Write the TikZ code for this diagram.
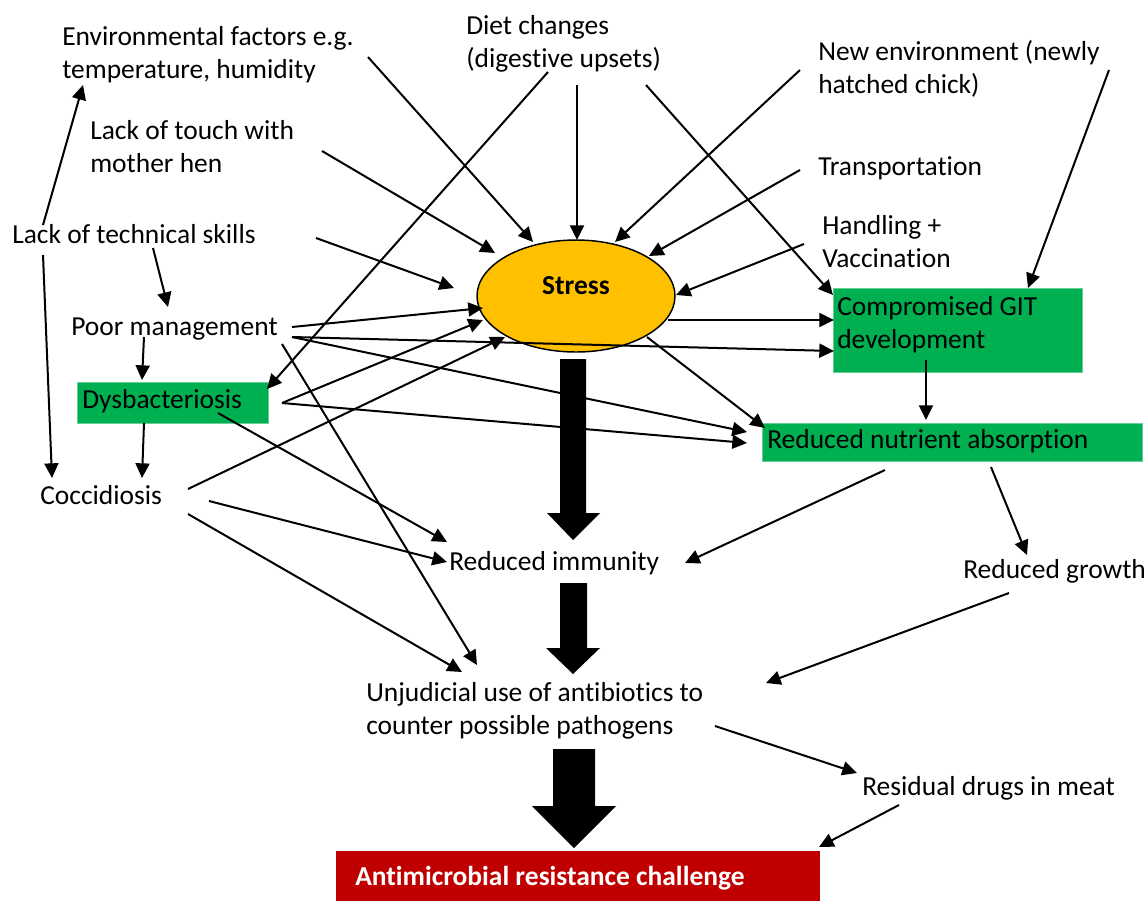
\documentclass[tikz,border=0pt]{standalone}
\usepackage{fontspec}
\setmainfont{Carlito}[Ligatures=NoCommon]
\usetikzlibrary{arrows.meta,shapes.geometric}
\definecolor{stressyellow}{HTML}{FFC000}
\definecolor{boxgreen}{HTML}{00B050}
\definecolor{amrred}{HTML}{C00000}
\begin{document}
\begin{tikzpicture}[x=0.75pt,y=-0.75pt,
  txt/.style={anchor=base west, inner sep=0pt, align=left, font=\fontsize{20.6}{24.75}\selectfont},
  conn/.style={line width=1.5pt, -{Triangle[length=11pt,width=10.5pt]}},
  gbox/.style={fill=boxgreen, draw=boxgreen!60!white, line width=0.6pt, inner sep=0pt, anchor=north west},
  bigarrow/.style={fill=black}]
\useasboundingbox (0,0) rectangle (1146,901);

% boxes
\node[gbox, minimum width=143.25pt, minimum height=30.75pt] (dysb) at (77,382) {};
\node[gbox, minimum width=186.75pt, minimum height=63pt] (git) at (833,288) {};
\node[gbox, minimum width=285pt, minimum height=28.5pt] (nutr) at (762,423) {};
\node[fill=amrred, inner sep=0pt, anchor=north west, minimum width=363pt, minimum height=37.5pt] (amr) at (336,851) {};
\node[ellipse, fill=stressyellow, draw=black, line width=1.1pt, inner sep=0pt, minimum width=148.5pt, minimum height=84pt] (stress) at (576,296) {};

% texts (multi-line nodes: base = last line)
\node[txt] (env) at (62,78) {Environmental factors e.g.\\temperature, humidity};
\node[txt] (diet) at (466,67) {Diet changes\\(digestive upsets)};
\node[txt] (newenv) at (818,93) {New environment (newly\\hatched chick)};
\node[txt] (touch) at (90,172) {Lack of touch with\\mother hen};
\node[txt] (transp) at (818,175) {Transportation};
\node[txt] (handl) at (822,267) {Handling +\\Vaccination};
\node[txt] (skills) at (12,243) {Lack of technical skills};
\node[txt] (poor) at (71,335) {Poor management};
\node[txt] (dysbt) at (82,408) {Dysbacteriosis};
\node[txt] (cocc) at (40,504) {Coccidiosis};
\node[txt] (gitt) at (837,348) {Compromised GIT\\development};
\node[txt] (nutrt) at (767,448) {Reduced nutrient absorption};
\node[txt] (immun) at (449,570) {Reduced immunity};
\node[txt] (growth) at (963,578) {Reduced growth};
\node[txt] (unjud) at (366,734) {Unjudicial use of antibiotics to\\counter possible pathogens};
\node[txt] (resid) at (862,795) {Residual drugs in meat};
\node[txt, text=white, font=\fontsize{20.6}{24.75}\selectfont\bfseries] (amrt) at (355,885) {Antimicrobial resistance challenge};
\node[txt, anchor=base, font=\fontsize{20.6}{24.75}\selectfont\bfseries] (stresst) at (576,294) {Stress};

% big arrows
\fill[bigarrow] (560,359) -- (586,359) -- (586,513) -- (600,513) -- (573,540) -- (547,513) -- (560,513) -- cycle;
\fill[bigarrow] (560,583) -- (587,583) -- (587,648) -- (600,648) -- (573,674) -- (546,648) -- (560,648) -- cycle;
\fill[bigarrow] (553,749) -- (595,749) -- (595,806) -- (616,806) -- (574,848) -- (532,806) -- (553,806) -- cycle;

% coordinates
\coordinate (aS) at (368,57);   \coordinate (aE) at (533,242);
\coordinate (bS) at (322,151);  \coordinate (bE) at (495,253);
\coordinate (cS) at (316,238);  \coordinate (cE) at (454,288);
\coordinate (dS) at (577,85);   \coordinate (dE) at (577,240);
\coordinate (eS) at (548,72);   \coordinate (eE) at (267,389);
\coordinate (fS) at (646,85);   \coordinate (fE) at (833,295);
\coordinate (gS) at (800,70);   \coordinate (gE) at (615,242);
\coordinate (hS) at (1109,70);  \coordinate (hE) at (1028,288);
\coordinate (iS) at (800,170);  \coordinate (iE) at (649,256);
\coordinate (jS) at (804,244);  \coordinate (jE) at (676,295);
\coordinate (kS) at (668,320);  \coordinate (kE) at (834,320);
\coordinate (lS) at (292,337);  \coordinate (lE) at (834,351);
\coordinate (mS) at (647,337);  \coordinate (mE) at (765,428);
\coordinate (nS) at (292,337);  \coordinate (nE) at (747,432);
\coordinate (oS) at (282,403);  \coordinate (oE) at (747,443);
\coordinate (pS) at (282,403);  \coordinate (pE) at (483,320);
\coordinate (qS) at (292,327);  \coordinate (qE) at (483,308);
\coordinate (rS) at (188,489);  \coordinate (rE) at (505,337);
\coordinate (sS) at (218,413);  \coordinate (sE) at (447,542);
\coordinate (tS) at (209,501);  \coordinate (tE) at (447,562);
\coordinate (uS) at (188,514);  \coordinate (uE) at (462,672);
\coordinate (vS) at (282,344);  \coordinate (vE) at (477,665);
\coordinate (wS) at (885,470);  \coordinate (wE) at (685,563);
\coordinate (xS) at (991,467);  \coordinate (xE) at (1027,555);
\coordinate (yS) at (926,360);  \coordinate (yE) at (926,420);
\coordinate (zS) at (1009,593); \coordinate (zE) at (766,683);
\coordinate (AS) at (715,726);  \coordinate (AE) at (857,773);
\coordinate (BS) at (899,805);  \coordinate (BE) at (819,847);
\coordinate (CS) at (43,225);   \coordinate (CE) at (83,85);
\coordinate (DS) at (43,255);   \coordinate (DE) at (52,478);
\coordinate (ES) at (153,248);  \coordinate (EE) at (168,307);
\coordinate (FS) at (144,337);  \coordinate (FE) at (142,380);
\coordinate (GS) at (144,423);  \coordinate (GE) at (142,478);

\foreach \n in {a,b,c,d,e,f,g,h,i,j,k,l,m,n,o,p,q,r,s,t,u,v,w,x,y,z,A,B,C,D,E,F,G}
  \draw[conn] (\n S) -- (\n E);
\end{tikzpicture}
\end{document}
